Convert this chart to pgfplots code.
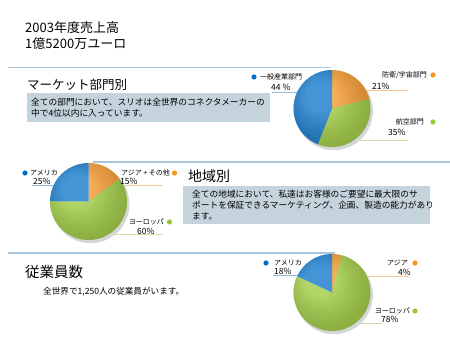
\documentclass[border=0pt]{standalone}
\usepackage{fontspec}
\setmainfont{Noto Sans CJK JP}
\usepackage{pgfplots}
\usepackage{pgfplotstable}
\pgfplotsset{compat=1.18}
\definecolor{pblue}{RGB}{0,110,200}
\definecolor{porange}{RGB}{248,146,28}
\definecolor{pgreen}{RGB}{152,200,50}
\definecolor{rulec}{RGB}{170,196,218}
\definecolor{boxc}{RGB}{197,211,221}
\definecolor{lblue}{RGB}{150,185,225}
\definecolor{lorange}{RGB}{250,200,150}
\definecolor{lgreen}{RGB}{205,225,160}

\pgfplotstableread{
share color
21 porange
35 pgreen
44 pblue
}\marketdata
\pgfplotstableread{
share color
15 porange
60 pgreen
25 pblue
}\regiondata
\pgfplotstableread{
share color
4 porange
78 pgreen
18 pblue
}\staffdata

\newcommand\drawpie[1]{%
  \fill[black!16] (axis cs:0.05,-0.07) circle[radius=39pt];%
  \gdef\cumshare{0}%
  \pgfplotstableforeachcolumnelement{share}\of#1\as\shareval{%
    \pgfplotstablegetelem{\pgfplotstablerow}{color}\of#1%
    \let\slicecol\pgfplotsretval
    \pgfmathsetmacro\sangA{90-3.6*\cumshare}%
    \pgfmathsetmacro\sangB{90-3.6*(\cumshare+\shareval)}%
    \edef\doslice{\noexpand\fill[\slicecol] (axis cs:0,0) -- (axis cs:{cos(\sangA)},{sin(\sangA)}) arc[start angle=\sangA, end angle=\sangB, radius=38.5pt] -- cycle;}%
    \doslice
    \pgfmathsetmacro\tmpshare{\cumshare+\shareval}\xdef\cumshare{\tmpshare}%
  }%
  \shade[ball color=white, opacity=0.27] (axis cs:0,0) circle[radius=38.5pt];%
}
\pgfplotsset{pieaxis/.style={hide axis, scale only axis, width=77pt, height=77pt,
  xmin=-1, xmax=1, ymin=-1, ymax=1, anchor=center, clip=false}}

\newcommand\lab[1]{\fontsize{7}{7}\selectfont #1}
\newcommand\pct[1]{\fontsize{8.5}{8.5}\selectfont #1}

\begin{document}
\begin{tikzpicture}[x=1pt,y=1pt]
\useasboundingbox (0,0) rectangle (450,353);
\fill[white] (0,0) rectangle (450,353);

% titles
\node[anchor=west, inner sep=0, font=\fontsize{13}{13}\selectfont] at (25,325) {2003年度売上高};
\node[anchor=west, inner sep=0, font=\fontsize{13}{13}\selectfont] at (25,309) {1億5200万ユーロ};

% section rules
\draw[rulec, line width=1.2pt] (8,285.5) -- (331,285.5);
\draw[rulec, line width=1.2pt] (93,191) -- (450,191);
\draw[rulec, line width=1.2pt] (8,100) -- (335,100);

% section 1
\node[anchor=west, inner sep=0, font=\fontsize{12.5}{12.5}\selectfont] at (27,268) {マーケット部門別};
\fill[boxc] (27,260) rectangle (270,231);
\node[anchor=west, inner sep=0, font=\fontsize{8.7}{8.7}\selectfont] at (31,251) {全ての部門において、スリオは全世界のコネクタメーカーの};
\node[anchor=west, inner sep=0, font=\fontsize{8.7}{8.7}\selectfont] at (31,240) {中で4位以内に入っています。};

% section 2
\node[anchor=west, inner sep=0, font=\fontsize{14}{14}\selectfont] at (188,177) {地域別};
\fill[boxc] (183,167) rectangle (430,129);
\node[anchor=west, inner sep=0, font=\fontsize{8.7}{8.7}\selectfont] at (192,159) {全ての地域において、私達はお客様のご要望に最大限のサ};
\node[anchor=west, inner sep=0, font=\fontsize{8.7}{8.7}\selectfont] at (192,148) {ポートを保証できるマーケティング、企画、製造の能力があり};
\node[anchor=west, inner sep=0, font=\fontsize{8.7}{8.7}\selectfont] at (192,136.5) {ます。};

% section 3
\node[anchor=west, inner sep=0, font=\fontsize{14.5}{14.5}\selectfont] at (25,81) {従業員数};
\node[anchor=west, inner sep=0, font=\fontsize{8.6}{8.6}\selectfont] at (43,61) {全世界で1,250人の従業員がいます。};

% label leader lines (behind pies)
\draw[lblue, line width=0.8pt] (272,261) -- (303,261);
\draw[lorange, line width=0.8pt] (360,263) -- (408,263);
\draw[lgreen, line width=0.8pt] (340,213) -- (408,213);
\draw[lblue, line width=0.8pt] (32,168) -- (77,168);
\draw[lorange, line width=0.8pt] (100,168) -- (163,168);
\draw[lgreen, line width=0.8pt] (93,119) -- (163,119);
\draw[lblue, line width=0.8pt] (273,78) -- (302,78);
\draw[lorange, line width=0.8pt] (345,77) -- (408,77);
\draw[lgreen, line width=0.8pt] (345,30) -- (382,30);

% pies
\begin{axis}[pieaxis, at={(332pt,244.5pt)}]
\drawpie{\marketdata}
\end{axis}
\begin{axis}[pieaxis, at={(88.5pt,151.5pt)}]
\drawpie{\regiondata}
\end{axis}
\begin{axis}[pieaxis, at={(332pt,60.5pt)}]
\drawpie{\staffdata}
\end{axis}

% pie labels, section 1
\fill[pblue] (254,276) circle[radius=2.6];
\node[anchor=west, inner sep=0] at (260,276) {\lab{一般産業部門}};
\node[anchor=west, inner sep=0] at (271,265.5) {\pct{44 \%}};
\node[anchor=east, inner sep=0] at (427,278) {\lab{防衛/宇宙部門}};
\fill[porange] (433,278) circle[radius=2.6];
\node[anchor=west, inner sep=0] at (372,267) {\pct{21\%}};
\node[anchor=east, inner sep=0] at (424,231) {\lab{航空部門}};
\fill[pgreen] (433,231) circle[radius=2.6];
\node[anchor=west, inner sep=0] at (388,221) {\pct{35\%}};

% pie labels, section 2
\fill[pblue] (25,180) circle[radius=2.6];
\node[anchor=west, inner sep=0] at (30,180) {\lab{アメリカ}};
\node[anchor=west, inner sep=0] at (33,172) {\pct{25\%}};
\node[anchor=east, inner sep=0] at (170,180) {\lab{アジア + その他}};
\fill[porange] (174.5,180) circle[radius=2.6];
\node[anchor=west, inner sep=0] at (120,172) {\pct{15\%}};
\node[anchor=east, inner sep=0] at (164,131) {\lab{ヨーロッパ}};
\fill[pgreen] (169.5,131) circle[radius=2.6];
\node[anchor=west, inner sep=0] at (137,122) {\pct{60\%}};

% pie labels, section 3
\fill[pblue] (266,90) circle[radius=2.6];
\node[anchor=west, inner sep=0] at (274,90) {\lab{アメリカ}};
\node[anchor=west, inner sep=0] at (274,82) {\pct{18\%}};
\node[anchor=east, inner sep=0] at (408,90) {\lab{アジア}};
\fill[porange] (415,90) circle[radius=2.6];
\node[anchor=west, inner sep=0] at (398,81) {\pct{4\%}};
\node[anchor=east, inner sep=0] at (410,42) {\lab{ヨーロッパ}};
\fill[pgreen] (415,42) circle[radius=2.6];
\node[anchor=west, inner sep=0] at (381,34) {\pct{78\%}};
\end{tikzpicture}
\end{document}
